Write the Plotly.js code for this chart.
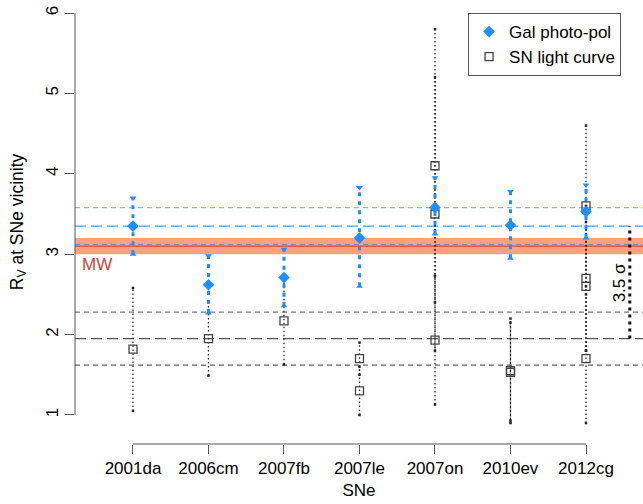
<!DOCTYPE html>
<html>
<head>
<meta charset="utf-8">
<script src="https://cdn.plot.ly/plotly-3.0.1.min.js"></script>
<style>
  html, body { margin: 0; padding: 0; background: #fff; }
  #chart { width: 643px; height: 504px; }
</style>
</head>
<body>
<div id="chart"></div>
<script>
// Supernovae on the x axis
const sne = ['2001da', '2006cm', '2007fb', '2007le', '2007on', '2010ev', '2012cg'];

// R_V from galaxy photo-polarimetry: central value and lower/upper bounds
const galRv = [3.35, 2.62, 2.71, 3.20, 3.58, 3.36, 3.53];
const galLo = [3.00, 2.27, 2.36, 2.60, 3.25, 2.95, 3.20];
const galHi = [3.70, 2.98, 3.06, 3.83, 3.95, 3.78, 3.86];

// R_V from SN light-curve fits (several fits for some SNe)
const lcSn = ['2001da', '2006cm', '2007fb', '2007le', '2007le', '2007on', '2007on', '2007on',
              '2010ev', '2010ev', '2012cg', '2012cg', '2012cg', '2012cg'];
const lcRv = [1.82, 1.95, 2.17, 1.70, 1.30, 4.10, 3.50, 1.93, 1.55, 1.53, 3.60, 2.70, 2.60, 1.70];
const lcLo = [1.05, 1.49, 1.63, 1.50, 1.00, 2.40, 1.80, 1.13, 0.90, 0.93, 2.60, 1.80, 1.80, 0.90];
const lcHi = [2.58, 2.41, 2.71, 1.90, 1.60, 5.80, 5.20, 2.73, 2.20, 2.15, 4.60, 3.60, 3.40, 2.50];

// Mean and ±1 sigma levels of each sample
const galLevels = [3.58, 3.35, 3.12];
const lcLevels = [2.28, 1.95, 1.62];

// Milky Way value and its band
const mwRv = 3.1, mwLo = 3.0, mwHi = 3.2;

const yTicks = [1, 2, 3, 4, 5, 6];

const FONT = 'Liberation Sans, Arial, Helvetica, sans-serif';
const BLUE = '#1E8FFF';

const pos = s => sne.indexOf(s) + 1;
const galX = sne.map((s, i) => i + 1);
const lcX = lcSn.map(pos);

// vertical segments [lo, hi] separated by gaps
function segments(xs, lo, hi) {
  const x = [], y = [];
  xs.forEach((v, i) => { x.push(v, v, null); y.push(lo[i], hi[i], null); });
  return { x, y };
}

const lcSeg = segments(lcX, lcLo, lcHi);
const galSeg = segments(galX, galLo, galHi);

const traces = [
  { type: 'scatter', mode: 'lines', x: lcSeg.x, y: lcSeg.y, showlegend: false, hoverinfo: 'skip',
    line: { color: '#222', width: 1.3, dash: '1.5px,2.5px' } },
  { type: 'scatter', mode: 'markers', x: lcX.concat(lcX), y: lcLo.concat(lcHi), showlegend: false, hoverinfo: 'skip',
    marker: { symbol: 'square', size: 2.5, color: '#222' } },
  { type: 'scatter', mode: 'lines', x: galSeg.x, y: galSeg.y, showlegend: false, hoverinfo: 'skip',
    line: { color: BLUE, width: 3, dash: '4px,5px' } },
  { type: 'scatter', mode: 'markers', x: galX, y: galHi, showlegend: false, hoverinfo: 'skip',
    marker: { symbol: 'triangle-down', size: 6, color: BLUE } },
  { type: 'scatter', mode: 'markers', x: galX, y: galLo, showlegend: false, hoverinfo: 'skip',
    marker: { symbol: 'triangle-up', size: 6, color: BLUE } },
  { type: 'scatter', mode: 'markers', name: 'SN light curve', x: lcX, y: lcRv,
    marker: { symbol: 'square-open', size: 8, color: '#444', line: { width: 1.3, color: '#444' } } },
  { type: 'scatter', mode: 'markers', name: 'Gal photo-pol', x: galX, y: galRv,
    marker: { symbol: 'diamond', size: 9, color: BLUE } }
];

function hline(y, color, dash, width) {
  return { type: 'line', layer: 'below', xref: 'paper', x0: 0, x1: 1, yref: 'y', y0: y, y1: y,
           line: { color: color, width: width || 1.2, dash: dash } };
}

const shapes = [
  { type: 'rect', layer: 'below', xref: 'paper', x0: 0, x1: 1, yref: 'y', y0: mwLo, y1: mwHi,
    fillcolor: '#FFA07F', line: { width: 0 } },
  { type: 'line', layer: 'below', xref: 'paper', x0: 0, x1: 1, yref: 'y', y0: mwRv, y1: mwRv,
    line: { color: '#E8402F', width: 1.3 } },
  hline(galLevels[0], '#7DB8F5', '5px,4px'),
  hline(galLevels[1], '#4C9EF0', '11px,5px'),
  hline(galLevels[2], '#6C8FD6', '5px,4px'),
  hline(lcLevels[0], '#777', '5px,4px'),
  hline(lcLevels[1], '#555', '11px,5px'),
  hline(lcLevels[2], '#666', '5px,4px'),
  // 3.5 sigma separation between the two sample means
  { type: 'line', xref: 'x', x0: 7.58, x1: 7.58, yref: 'y', y0: lcLevels[1], y1: galLevels[1],
    line: { color: '#111', width: 3, dash: '3px,4px' } },
  // axis lines spanning the tick range only
  { type: 'line', xref: 'paper', x0: 0, x1: 0, yref: 'y', y0: yTicks[0], y1: yTicks[yTicks.length - 1],
    line: { color: '#555', width: 1 } },
  { type: 'line', xref: 'x', x0: 1, x1: sne.length, yref: 'paper', y0: 0, y1: 0,
    line: { color: '#555', width: 1 } }
];

const layout = {
  width: 643, height: 504,
  margin: { l: 75, r: 0, t: 0, b: 60 },
  paper_bgcolor: '#fff', plot_bgcolor: '#fff',
  font: { family: FONT, size: 17, color: '#000' },
  showlegend: true,
  legend: {
    x: 0.692, y: 0.9707, xanchor: 'left', yanchor: 'top',
    bgcolor: '#fff', bordercolor: '#555', borderwidth: 1,
    font: { family: FONT, size: 17, color: '#000' },
    traceorder: 'reversed'
  },
  xaxis: {
    range: [0.232, 7.755], showgrid: false, zeroline: false, showline: false,
    tickvals: galX, ticktext: sne, ticks: 'outside', ticklen: 9, tickcolor: '#555',
    tickfont: { family: FONT, size: 17 },
    title: { text: 'SNe', font: { family: FONT, size: 17 }, standoff: 6 }
  },
  yaxis: {
    range: [0.639, 6.162], showgrid: false, zeroline: false, showline: false,
    tickvals: yTicks, ticks: 'outside', ticklen: 9, tickcolor: '#555', tickangle: -90,
    tickfont: { family: FONT, size: 17 },
    title: { text: 'R<sub>V</sub> at SNe vicinity', font: { family: FONT, size: 17.5 }, standoff: 15 }
  },
  shapes: shapes,
  annotations: [
    { xref: 'x', yref: 'y', x: 0.30, y: 2.87, xanchor: 'left', yanchor: 'middle', showarrow: false,
      text: 'MW', font: { family: FONT, size: 17, color: '#D8413A' } },
    { xref: 'x', yref: 'y', x: 7.44, y: 2.64, showarrow: false, textangle: -90,
      text: '3.5 σ', font: { family: FONT, size: 17, color: '#000' } }
  ]
};

Plotly.newPlot('chart', traces, layout, { displayModeBar: false, staticPlot: true });
</script>
</body>
</html>
